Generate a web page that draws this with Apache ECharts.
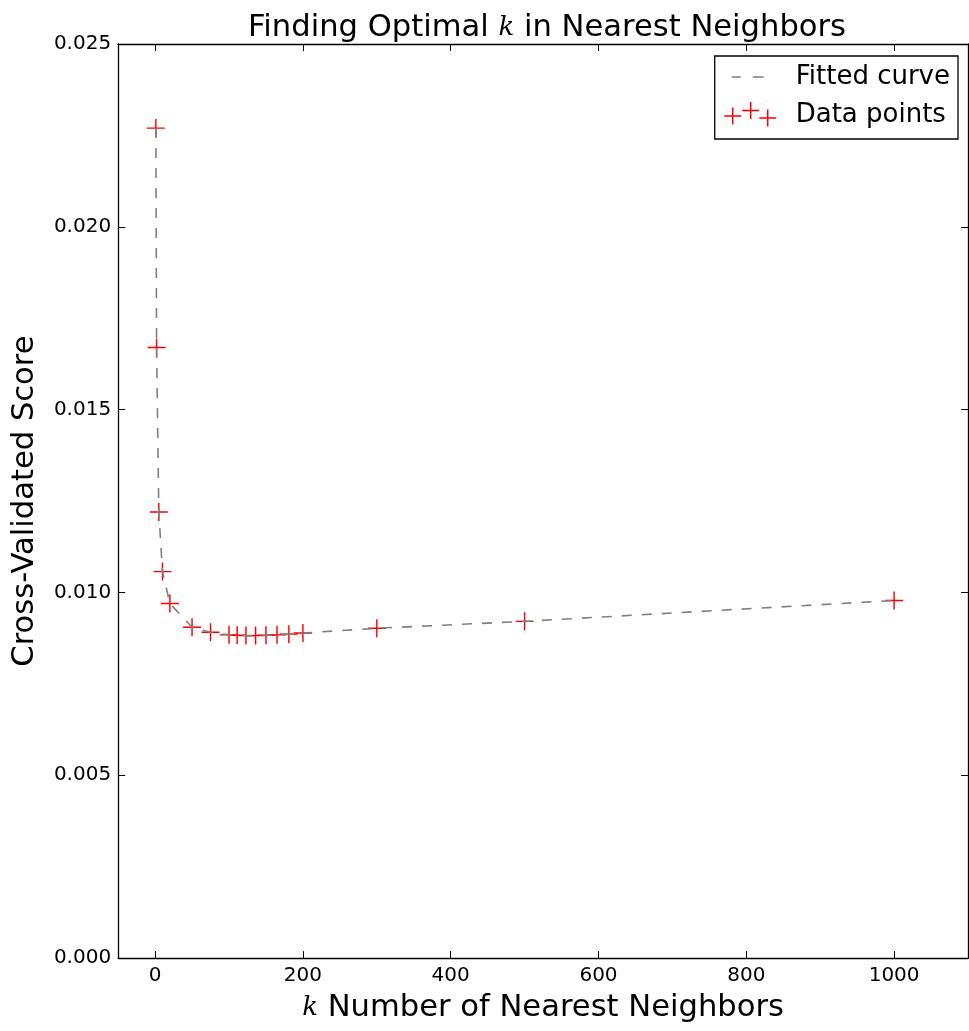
<!DOCTYPE html>
<html>
<head>
<meta charset="utf-8">
<script src="https://cdn.jsdelivr.net/npm/echarts@6/dist/echarts.min.js"></script>
<style>
html,body{margin:0;padding:0;background:#fff;}
#c{width:969px;height:1031px;}
</style>
</head>
<body>
<div id="c"></div>
<script>
const kValues = [1, 2, 5, 10, 20, 50, 75, 100, 111, 123, 136, 150, 165, 181, 200, 300, 500, 1000];
const scores = [0.0227, 0.0167, 0.0122, 0.01057, 0.0097, 0.00905, 0.00891, 0.00884, 0.00883, 0.00882, 0.00882, 0.00883, 0.00884, 0.00886, 0.00889, 0.00902, 0.00921, 0.00978];
const xTicks = [0, 200, 400, 600, 800, 1000];
const yTicks = [0, 0.005, 0.010, 0.015, 0.020, 0.025];

const FONT = 'DejaVu Sans';
const points = kValues.map((k, i) => [k, scores[i]]);

function plus(cx, cy, h, s) {
  const a = s / 2;
  return `M${cx - a},${cy - h}H${cx + a}V${cy - a}H${cx + h}V${cy + a}H${cx + a}V${cy + h}H${cx - a}V${cy + a}H${cx - h}V${cy - a}H${cx - a}Z`;
}
const bbox = 'M0,0h0.01v0.01h-0.01Z M68.99,25.99h0.01v0.01h-0.01Z ';
const plusSymbol = 'path://' + plus(10, 10, 10, 1.6);
const legendPlus = 'path://' + bbox + plus(11, 14, 8.5, 1.5) + ' ' + plus(29, 8.5, 8.5, 1.5) + ' ' + plus(46, 16, 8.5, 1.5);
const legendDash = 'path://' + bbox + 'M10,12.2H19V13.8H10Z M31,12.2H42V13.8H31Z';

const kRich = { fontFamily: 'DejaVu Serif', fontStyle: 'italic', fontSize: 26, color: '#000' };

const chart = echarts.init(document.getElementById('c'), null, { renderer: 'canvas' });
const axisCommon = {
  axisLine: { show: true, onZero: false, lineStyle: { color: '#000', width: 1.3 } },
  axisTick: { show: true, inside: true, length: 7, lineStyle: { color: '#000', width: 1 } },
  splitLine: { show: false }
};
chart.setOption({
  animation: false,
  backgroundColor: '#fff',
  title: {
    text: 'Finding Optimal {k|k} in Nearest Neighbors',
    left: 542,
    textAlign: 'center',
    top: 5,
    textStyle: { fontFamily: FONT, fontSize: 30.6, fontWeight: 'normal', color: '#000', lineHeight: 36, rich: { k: kRich } }
  },
  grid: { left: 116, right: 1, top: 44, bottom: 70, containLabel: false },
  legend: {
    right: 11,
    top: 56,
    orient: 'vertical',
    selectedMode: false,
    padding: [7, 8, 10, 7],
    itemWidth: 69,
    itemHeight: 26,
    itemGap: 10,
    borderColor: '#000',
    borderWidth: 1.3,
    borderRadius: 0,
    backgroundColor: '#fff',
    textStyle: { fontFamily: FONT, fontSize: 26, color: '#000', lineHeight: 28 },
    data: [
      { name: 'Fitted curve', icon: legendDash, itemStyle: { color: '#808080', borderWidth: 0 } },
      { name: 'Data points', icon: legendPlus, itemStyle: { color: '#ff0000', borderWidth: 0 } }
    ]
  },
  xAxis: [
    Object.assign({}, axisCommon, {
      type: 'value', min: -50, max: 1100, position: 'bottom',
      name: '{k|k} Number of Nearest Neighbors',
      nameLocation: 'middle', nameGap: 28,
      nameTextStyle: { fontFamily: FONT, fontSize: 30.6, color: '#000', lineHeight: 35, rich: { k: kRich } },
      axisTick: Object.assign({}, axisCommon.axisTick, { customValues: xTicks }),
      axisLabel: { customValues: xTicks, fontFamily: FONT, fontSize: 20, color: '#000', margin: 8, formatter: v => String(v) }
    }),
    Object.assign({}, axisCommon, {
      type: 'value', min: -50, max: 1100, position: 'top',
      axisTick: Object.assign({}, axisCommon.axisTick, { customValues: xTicks }),
      axisLabel: { show: false, customValues: xTicks }
    })
  ],
  yAxis: [
    Object.assign({}, axisCommon, {
      type: 'value', min: 0, max: 0.025, interval: 0.005, position: 'left',
      name: 'Cross-Validated Score',
      nameLocation: 'middle', nameGap: 72,
      nameTextStyle: { fontFamily: FONT, fontSize: 30.6, color: '#000', lineHeight: 35 },
      axisLabel: { fontFamily: FONT, fontSize: 20, color: '#000', margin: 7, formatter: v => v.toFixed(3) }
    }),
    Object.assign({}, axisCommon, {
      type: 'value', min: 0, max: 0.025, interval: 0.005, position: 'right',
      axisLabel: { show: false }
    })
  ],
  series: [
    {
      name: 'Fitted curve', type: 'line', data: points, xAxisIndex: 0, yAxisIndex: 0,
      color: '#808080', symbol: 'none', smooth: false, z: 3,
      itemStyle: { color: '#808080' },
      lineStyle: { color: '#808080', width: 1.6, type: [10, 10] },
      emphasis: { disabled: true }, silent: true
    },
    {
      name: 'Data points', type: 'scatter', data: points, xAxisIndex: 0, yAxisIndex: 0,
      color: '#ff0000', symbol: plusSymbol, symbolSize: 18, z: 2,
      itemStyle: { color: '#ff0000', opacity: 1 },
      emphasis: { disabled: true }, silent: true
    }
  ]
});
</script>
</body>
</html>
